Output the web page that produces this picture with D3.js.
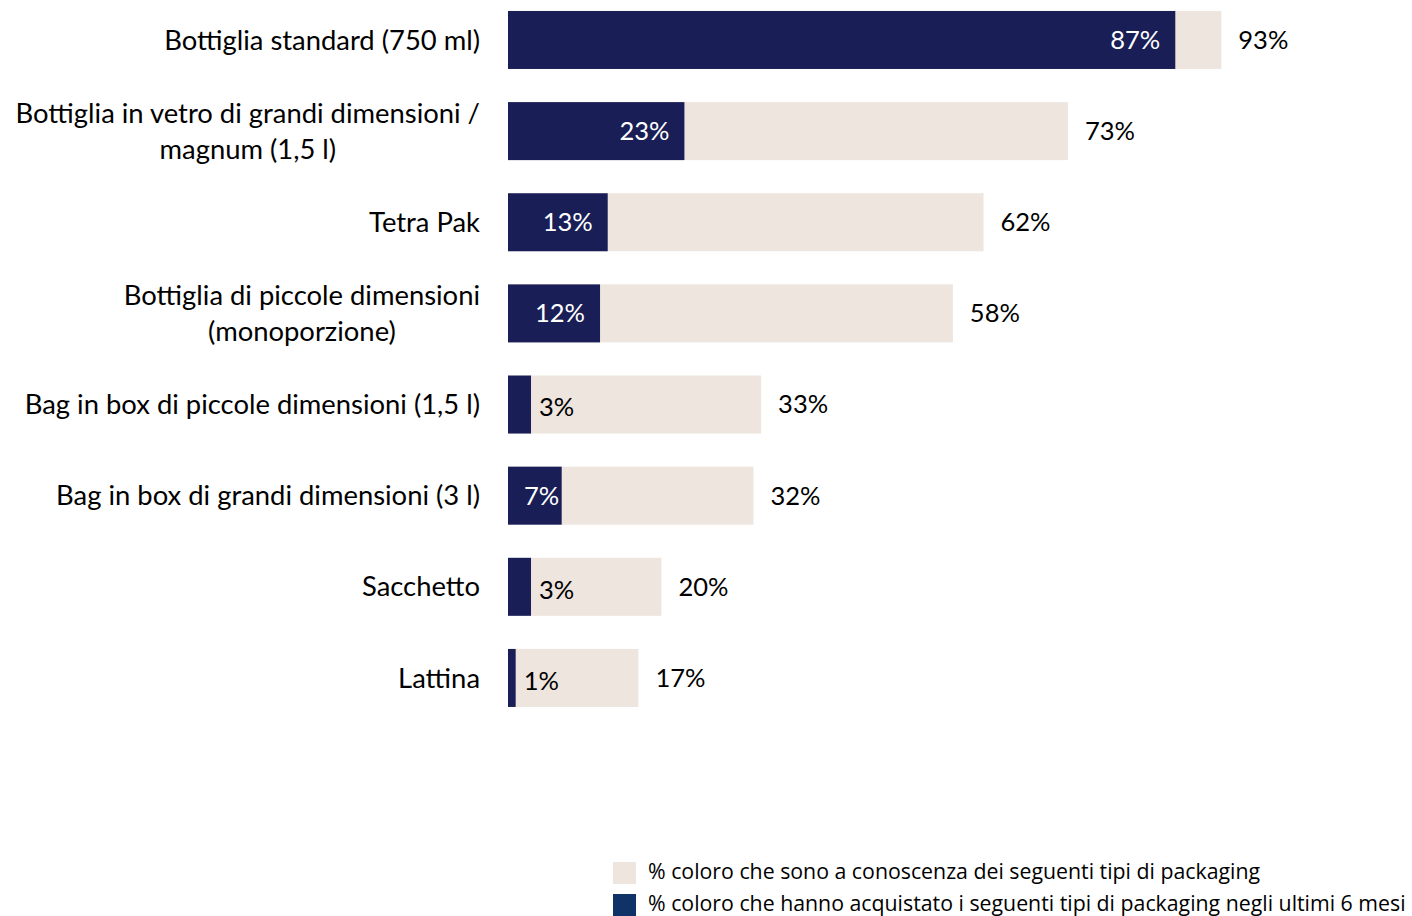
<!DOCTYPE html>
<html>
<head>
<meta charset="utf-8">
<script src="https://cdn.jsdelivr.net/npm/d3@7"></script>
<style>
  html, body { margin: 0; padding: 0; background: #ffffff; }
  svg { display: block; }
</style>
</head>
<body>
<svg id="chart" width="1412" height="916"></svg>
<script>
// Packaging types (multi-line labels split with "\n")
const categories = [
  "Bottiglia standard (750 ml)",
  "Bottiglia in vetro di grandi dimensioni /\nmagnum (1,5 l)",
  "Tetra Pak",
  "Bottiglia di piccole dimensioni\n(monoporzione)",
  "Bag in box di piccole dimensioni (1,5 l)",
  "Bag in box di grandi dimensioni (3 l)",
  "Sacchetto",
  "Lattina"
];
// % aware of each packaging type
const awareValues = [93, 73, 62, 58, 33, 32, 20, 17];
// % who bought each packaging type in the last 6 months
const boughtValues = [87, 23, 13, 12, 3, 7, 3, 1];
const legendLabels = [
  "% coloro che sono a conoscenza dei seguenti tipi di packaging",
  "% coloro che hanno acquistato i seguenti tipi di packaging negli ultimi 6 mesi"
];

const colors = { aware: "#ede5de", bought: "#191e56", legendBought: "#0f3366" };
const font = "Lato, 'Open Sans', sans-serif";

const svg = d3.select("#chart");

const x = d3.scaleLinear().domain([0, 100]).range([508, 1275]);
const step = 91.14;
const y = d3.scaleBand()
  .domain(categories)
  .range([-5.6, -5.6 + step * categories.length])
  .paddingInner(0.3636)
  .paddingOuter(0.1818);

const rows = categories.map((c, i) => ({ cat: c, aware: awareValues[i], bought: boughtValues[i] }));

const g = svg.append("g");

// awareness bars (background)
g.selectAll("rect.aware").data(rows).join("rect")
  .attr("class", "aware")
  .attr("x", x(0))
  .attr("y", d => y(d.cat))
  .attr("width", d => x(d.aware) - x(0))
  .attr("height", y.bandwidth())
  .attr("fill", colors.aware);

// purchase bars (foreground)
g.selectAll("rect.bought").data(rows).join("rect")
  .attr("class", "bought")
  .attr("x", x(0))
  .attr("y", d => y(d.cat))
  .attr("width", d => x(d.bought) - x(0))
  .attr("height", y.bandwidth())
  .attr("fill", colors.bought);

// awareness value labels, outside the bar end
g.selectAll("text.awareLbl").data(rows).join("text")
  .attr("class", "awareLbl")
  .attr("x", d => x(d.aware) + 17)
  .attr("y", d => y(d.cat) + y.bandwidth() / 2)
  .attr("dy", "0.35em")
  .attr("font-family", font)
  .attr("font-size", 25.5)
  .attr("fill", "#000")
  .text(d => d.aware + "%");

// purchase value labels: inside end when there is room, else just past the bar
const fitsInside = d => x(d.bought) - x(0) > 40;
g.selectAll("text.boughtLbl").data(rows).join("text")
  .attr("class", "boughtLbl")
  .attr("y", d => y(d.cat) + y.bandwidth() / 2 + (fitsInside(d) ? 0 : 3))
  .attr("dy", "0.35em")
  .attr("font-family", font)
  .attr("font-size", 25.5)
  .attr("fill", d => fitsInside(d) ? "#ffffff" : "#000000")
  .text(d => d.bought + "%")
  .each(function (d) {
    const w = this.getComputedTextLength();
    const xs = fitsInside(d)
      ? Math.max(x(d.bought) - 15 - w, x(0) + 16)
      : x(d.bought) + 8;
    d3.select(this).attr("x", xs);
  });

// category labels, right-aligned against the bars
const catLbl = g.selectAll("text.cat").data(rows).join("text")
  .attr("class", "cat")
  .attr("x", 480)
  .attr("y", d => y(d.cat) + y.bandwidth() / 2)
  .attr("text-anchor", "end")
  .attr("font-family", font)
  .attr("font-size", 27.4)
  .attr("fill", "#000");

catLbl.each(function (d) {
  const lines = d.cat.split("\n");
  const el = d3.select(this);
  const lh = 36;
  lines.forEach((ln, k) => {
    el.append("tspan")
      .attr("x", 480)
      .attr("y", y(d.cat) + y.bandwidth() / 2 + (k - (lines.length - 1) / 2) * lh)
      .attr("dy", "0.35em")
      .attr("text-anchor", lines.length > 1 ? "middle" : "end")
      .text(ln);
  });
});
// center multi-line labels under the widest line (right edge at 480)
catLbl.each(function (d) {
  const lines = d.cat.split("\n");
  if (lines.length < 2) return;
  const el = d3.select(this);
  const spans = el.selectAll("tspan").nodes();
  const widths = spans.map(s => s.getComputedTextLength());
  const maxW = d3.max(widths);
  const cx = 480 - maxW / 2;
  spans.forEach(s => d3.select(s).attr("x", cx));
});

// legend
const legendColors = [colors.aware, colors.legendBought];
const lg = svg.append("g").attr("transform", "translate(613,862)");
legendLabels.forEach((t, i) => {
  lg.append("rect")
    .attr("x", 0).attr("y", i * 32)
    .attr("width", 23).attr("height", 22)
    .attr("fill", legendColors[i]);
  lg.append("text")
    .attr("x", 35).attr("y", i * 32 + 10)
    .attr("dy", "0.35em")
    .attr("font-family", "'Open Sans', sans-serif")
    .attr("font-size", 21.3)
    .attr("fill", "#000")
    .text(t);
});
</script>
</body>
</html>
